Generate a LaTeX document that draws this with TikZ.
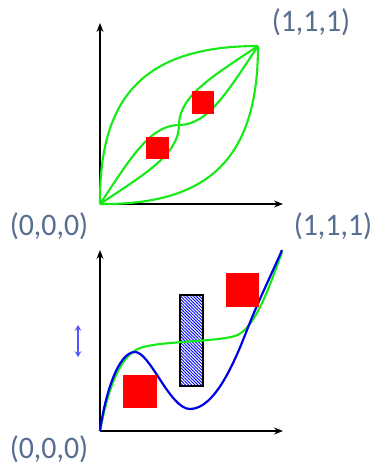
\documentclass[tikz,border=0pt]{standalone}
\usepackage{fontspec}
\setmainfont{Carlito}
\usetikzlibrary{arrows.meta,patterns.meta}
\definecolor{lbl}{RGB}{88,110,145}
\definecolor{grn}{RGB}{20,235,20}
\definecolor{dblue}{RGB}{0,0,235}
\definecolor{lblue}{RGB}{85,85,255}
\begin{document}
\begin{tikzpicture}[x=1pt,y=-1pt,
  axis/.style={line width=1.3pt,-{Stealth[length=9pt,width=7pt,inset=3pt]}},
  gcurve/.style={grn,line width=2.1pt},
  bcurve/.style={dblue,line width=2.2pt},
  redsq/.style={fill=red,draw=none,inner sep=0pt},
  lab/.style={text=lbl,font=\fontsize{29}{33}\selectfont,inner sep=0pt}]
\useasboundingbox (0,0) rectangle (376,467);
% ---------- top plot ----------
\coordinate (O1) at (100,204);
\coordinate (T1) at (258,46);
\coordinate (Y1) at (100,23);
\coordinate (X1) at (283,204);
\draw[axis] (O1) -- (Y1);
\draw[axis] (O1) -- (X1);
\draw[gcurve] (O1) .. controls (205,205) and (258,162) .. (T1);
\draw[gcurve] (O1) .. controls (99,99) and (142,46) .. (T1);
\draw[gcurve] (O1) .. controls (130,159) and (150,125) .. (179,125)
                   .. controls (208,125) and (228,91) .. (T1);
\draw[gcurve] (O1) .. controls (145,174) and (179,154) .. (179,125)
                   .. controls (179,96) and (213,76) .. (T1);
\node[redsq,minimum width=23pt,minimum height=22pt] (r1) at (157.5,148) {};
\node[redsq,minimum width=22pt,minimum height=23pt] (r2) at (203,102.5) {};
\node[lab] (l1) at (311,22) {\scalebox{1.03}[1.08]{(1,1,1)}};
\node[lab] (l2) at (49,226) {\scalebox{1.03}[1.08]{(0,0,0)}};
\node[lab] (l3) at (333,226) {\scalebox{1.03}[1.08]{(1,1,1)}};
% ---------- bottom plot ----------
\coordinate (O2) at (100,431);
\coordinate (Y2) at (100,250);
\coordinate (X2) at (283,431);
\coordinate (E2) at (282,250);
\draw[axis] (O2) -- (Y2);
\draw[axis] (O2) -- (X2);
\node[draw=black,line width=1.5pt,inner sep=0pt,
      pattern={Lines[angle=-45,distance=2.2pt,line width=0.9pt]},pattern color=blue,
      minimum width=23pt,minimum height=91pt] (hb) at (191.5,340.5) {};
\draw[gcurve] (O2) .. controls (107,395) and (118,356) .. (140,348)
                   .. controls (160,341) and (215,342) .. (235,336)
                   .. controls (255,330) and (270,285) .. (282,252);
\draw[bcurve] (O2) .. controls (105,395) and (118,352) .. (135,352)
                   .. controls (150,352) and (170,409) .. (190,409)
                   .. controls (215,409) and (235,361) .. (247,330)
                   .. controls (259,299) and (275,267) .. (E2);
\node[redsq,minimum width=34pt,minimum height=33pt] (r3) at (140,391.5) {};
\node[redsq,minimum width=33pt,minimum height=34pt] (r4) at (242.5,290) {};
\coordinate (da1) at (78,325);
\coordinate (da2) at (78,357);
\draw[lblue,line width=1.3pt,{Stealth[length=6pt,width=7pt,inset=2.5pt]}-{Stealth[length=6pt,width=7pt,inset=2.5pt]}] (da1) -- (da2);
\node[lab] (l4) at (49,449) {\scalebox{1.03}[1.08]{(0,0,0)}};
\end{tikzpicture}
\end{document}
